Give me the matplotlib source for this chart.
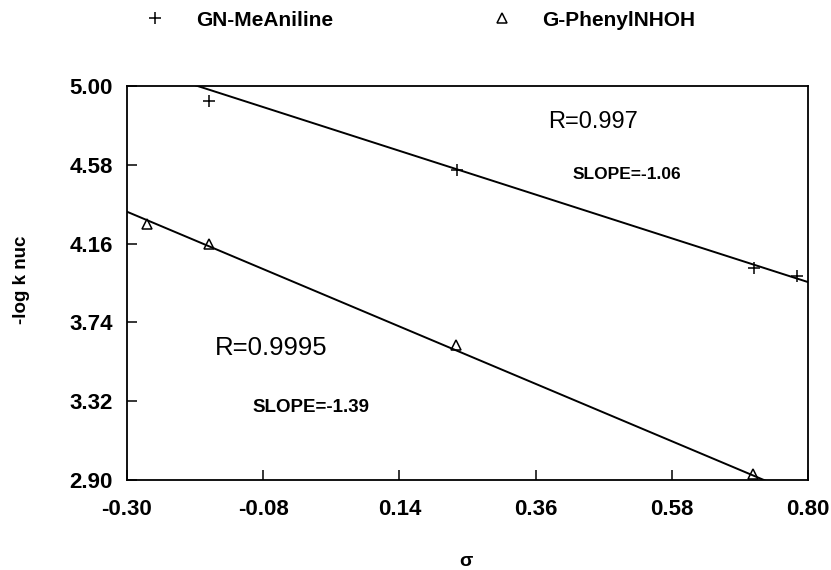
import numpy as np
import matplotlib
matplotlib.use("Agg")
import matplotlib.pyplot as plt

plt.rcParams['font.family'] = ['Liberation Sans', 'DejaVu Sans']

# sigma values and -log k nuc for the two nucleophiles
sigma_mea = [-0.167, 0.233, 0.713, 0.782]
logk_mea = [4.92, 4.552, 4.03, 3.987]
sigma_phn = [-0.268, -0.168, 0.231, 0.711]
logk_phn = [4.264, 4.158, 3.62, 2.932]

# regression lines (slope, intercept at sigma=0)
slopes = [-1.06, -1.39]
intercepts = [4.803, 3.913]
r_labels = ["R=0.997", "R=0.9995"]
slope_labels = ["SLOPE=-1.06", "SLOPE=-1.39"]

xticks = [-0.30, -0.08, 0.14, 0.36, 0.58, 0.80]
yticks = [2.90, 3.32, 3.74, 4.16, 4.58, 5.00]

fig = plt.figure(figsize=(8.31, 5.70), dpi=100)
ax = fig.add_axes([0.1528, 0.1579, 0.8195, 0.6912])

xs = np.array([-0.30, 0.80])
for m, b in zip(slopes, intercepts):
    ax.plot(xs, m*xs + b, color="black", lw=1.4)

h1, = ax.plot(sigma_mea, logk_mea, linestyle="none", marker="+", ms=8,
              mew=1.1, color="black", label="GN-MeAniline")
h2, = ax.plot(sigma_phn, logk_phn, linestyle="none", marker="^", ms=7,
              mew=1.1, mfc="none", mec="black", label="G-PhenylNHOH")

ax.set_xlim(-0.30, 0.80)
ax.set_ylim(2.90, 5.00)
ax.set_xticks(xticks)
ax.set_yticks(yticks)
ax.set_xticklabels(["%.2f" % v for v in xticks])
ax.set_yticklabels(["%.2f" % v for v in yticks])
ax.tick_params(direction="in", length=7, width=1.1, top=False, right=False,
               labelsize=16)
ax.tick_params(axis="x", pad=14)
ax.tick_params(axis="y", pad=10)
for lab in ax.get_xticklabels() + ax.get_yticklabels():
    lab.set_fontweight("bold")
for sp in ax.spines.values():
    sp.set_linewidth(1.3)

ax.text(0.380, 4.808, r_labels[0], fontsize=17, ha="left", va="center")
ax.text(0.420, 4.531, slope_labels[0], fontsize=12.5, fontweight="bold",
        ha="left", va="center")
ax.text(-0.158, 3.604, r_labels[1], fontsize=18.5, ha="left", va="center")
ax.text(-0.098, 3.284, slope_labels[1], fontsize=13.5, fontweight="bold",
        ha="left", va="center")

fig.text(22/831, 1 - 280/570, "-log k nuc", rotation=90, fontsize=13.5,
         fontweight="bold", ha="center", va="center")
fig.text(466/831, 1 - 562/570, "σ", fontsize=14, fontweight="bold",
         ha="center", va="center")

fig.legend(handles=[h1, h2], loc="center left",
           bbox_to_anchor=(145/831, 1 - 20/570), ncol=2, frameon=False,
           prop={"weight": "bold", "size": 15}, handlelength=1.0,
           handletextpad=1.45, columnspacing=7.6, borderaxespad=0,
           borderpad=0)

fig.savefig("out.png", dpi=100)
